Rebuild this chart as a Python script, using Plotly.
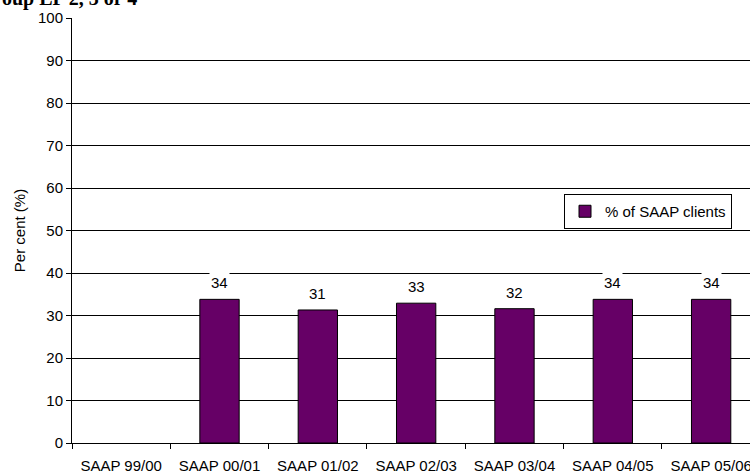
import plotly.graph_objects as go

categories = ["SAAP 99/00", "SAAP 00/01", "SAAP 01/02", "SAAP 02/03",
              "SAAP 03/04", "SAAP 04/05", "SAAP 05/06"]
values = [None, 33.8, 31.3, 32.9, 31.6, 33.8, 33.8]
labels = ["", "34", "31", "33", "32", "34", "34"]
series_name = "% of SAAP clients"
y_ticks = [0, 10, 20, 30, 40, 50, 60, 70, 80, 90, 100]
title_text = "oup LP 2, 3 or 4"

W, H = 750, 473
L, R, T, B = 72, 0, 18, 30
pw = W - L - R
ph = H - T - B
FONT = "Arial, Liberation Sans, Helvetica"

fig = go.Figure()
fig.add_trace(go.Bar(
    x=categories, y=values, name=series_name,
    marker=dict(color="#660066", line=dict(color="black", width=1)),
    showlegend=True,
))

for c, v, t in zip(categories, values, labels):
    if v is None:
        continue
    fig.add_annotation(x=c, y=v, text=t, showarrow=False, yanchor="bottom",
                       yshift=6, bgcolor="white", borderpad=1,
                       font=dict(family=FONT, size=15, color="black"))

fig.add_annotation(xref="paper", yref="paper", x=-L / pw, y=(ph + 6) / ph,
                   xanchor="left", yanchor="bottom", text="<b>" + title_text + "</b>",
                   showarrow=False,
                   font=dict(family="Liberation Serif, Times New Roman", size=20, color="black"))

fig.update_layout(
    width=W, height=H,
    margin=dict(l=L, r=R, t=T, b=B, autoexpand=False),
    paper_bgcolor="white", plot_bgcolor="white",
    bargap=0.6,
    font=dict(family=FONT, size=15, color="black"),
    legend=dict(x=(564 - L) / pw, y=(H - B - 194) / ph, xanchor="left", yanchor="top",
                bordercolor="black", borderwidth=1, bgcolor="white",
                font=dict(size=15), itemwidth=30, tracegroupgap=0),
    xaxis=dict(range=[-0.5, -0.5 + pw / 98.33], type="category", automargin=False,
               showline=True, linecolor="black", linewidth=1,
               ticks="outside", tickson="boundaries", ticklen=5, tickcolor="black",
               ticklabelstandoff=9,
               showgrid=False, tickfont=dict(size=15)),
    yaxis=dict(range=[0, 100], tickvals=y_ticks, showline=True, linecolor="black",
               linewidth=1, ticks="outside", ticklen=5, tickcolor="black", automargin=False,
               showgrid=True, gridcolor="black", gridwidth=1, zeroline=False,
               title=dict(text="Per cent (%)", standoff=8, font=dict(size=15)),
               tickfont=dict(size=15)),
)

fig.write_html("out.html", config={"displayModeBar": False},
               post_script="document.body.style.margin='0';document.body.style.overflow='hidden';")
